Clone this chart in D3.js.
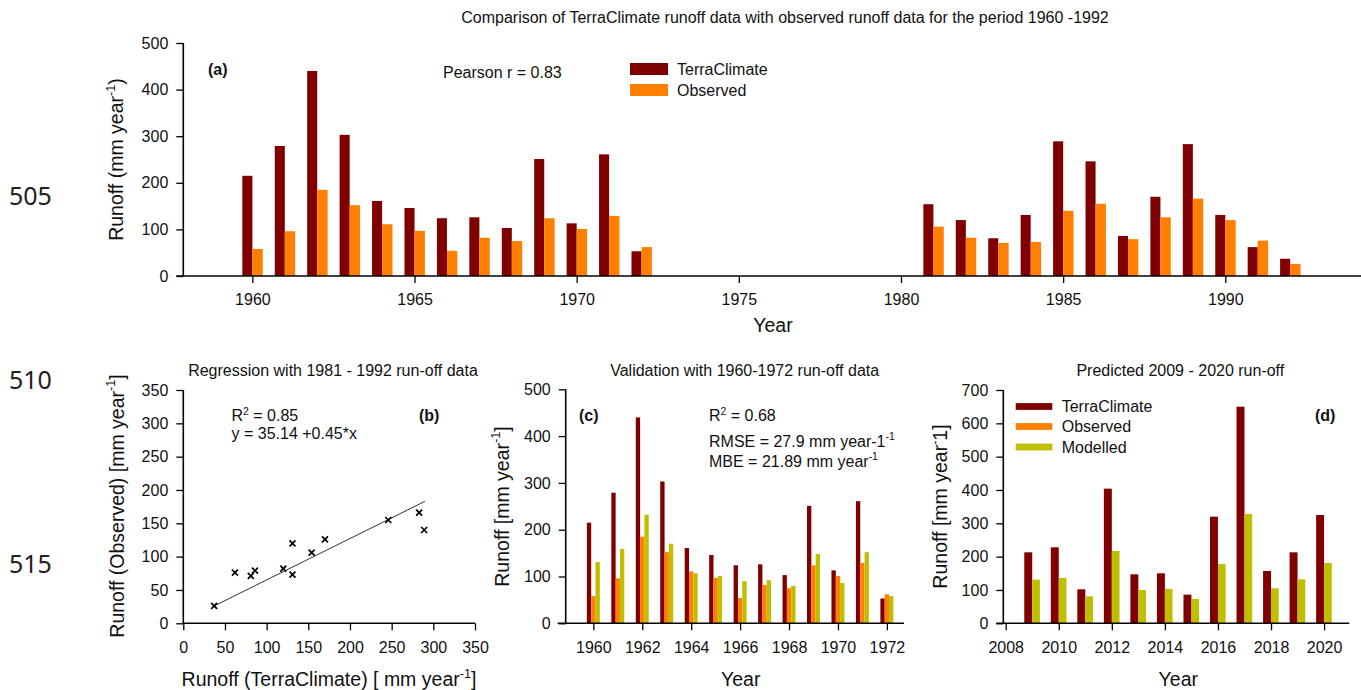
<!doctype html>
<html lang="en">
  <head>
    <meta charset="utf-8">
    <title>TerraClimate runoff comparison</title>
    <style>
      body { margin: 0; background: #fff; }
      svg { display: block; font-family: "Liberation Sans", Arial, sans-serif; }
    </style>
  </head>
  <body>
    <script src="https://d3js.org/d3.v7.min.js"></script>
    <script>
      // 1960-1972 (validation period)
      var yearsEarly = [1960, 1961, 1962, 1963, 1964, 1965, 1966, 1967, 1968, 1969, 1970, 1971, 1972];
      var terraEarly = [215, 279, 440, 303, 161, 146, 124, 126, 103, 251, 113, 261, 53];
      var obsEarly   = [58, 96, 185, 152, 111, 97, 54, 82, 75, 124, 101, 129, 62];
      var modelEarly = [131, 159, 232, 170, 107, 101, 90, 92, 80, 148, 86, 152, 58];

      // 1981-1992 (regression period)
      var yearsLate = [1981, 1982, 1983, 1984, 1985, 1986, 1987, 1988, 1989, 1990, 1991, 1992];
      var terraLate = [154, 120, 81, 131, 289, 246, 86, 170, 283, 131, 62, 37];
      var obsLate   = [106, 82, 71, 73, 140, 155, 79, 126, 166, 120, 76, 26];

      // 2009-2020 prediction
      var yearsPred = [2009, 2010, 2011, 2012, 2013, 2014, 2015, 2016, 2017, 2018, 2019, 2020];
      var terraPred = [213, 228, 102, 404, 147, 150, 86, 320, 650, 157, 213, 325];
      var modelPred = [131, 136, 81, 217, 100, 103, 73, 178, 328, 105, 132, 181];

      // fitted line as drawn in panel (b), ends in data units
      var fitEnds = [[37, 26], [290, 183]];

      var ticksA = [1960, 1965, 1970, 1975, 1980, 1985, 1990];
      var ticksC = [1960, 1962, 1964, 1966, 1968, 1970, 1972];
      var ticksD = [2008, 2010, 2012, 2014, 2016, 2018, 2020];

      var colTerra = '#800000', colObs = '#ff8000', colModel = '#bfbf00';

      var svg = d3.select('body').append('svg')
          .attr('width', 1361)
          .attr('height', 690);
      svg.append('rect').attr('width', 1361).attr('height', 690).attr('fill', '#fff');

      // text with optional superscript parts: strings or {sup: '...'}
      function label(g, x, y, parts, o) {
        o = o || {};
        var fs = o.size || 16;
        var t = g.append('text')
          .attr('font-size', fs)
          .attr('text-anchor', o.anchor || 'start')
          .attr('font-weight', o.bold ? 'bold' : null)
          .attr('font-family', o.family || null)
          .attr('fill', o.color || '#111');
        if (o.rotate) {
          t.attr('x', 0).attr('y', fs * 0.35)
            .attr('transform', 'translate(' + x + ',' + y + ') rotate(-90)');
        } else {
          t.attr('x', x).attr('y', y + fs * 0.35);
        }
        var lift = 0;
        parts.forEach(function(p) {
          var sup = typeof p !== 'string';
          var shift = sup ? -fs * 0.42 : 0;
          t.append('tspan')
            .attr('dy', shift - lift)
            .attr('font-size', sup ? fs * 0.65 : null)
            .text(sup ? p.sup : p);
          lift = shift;
        });
        return t;
      }

      function axes(g, x, y, xTicks, yTicks, overhang) {
        var x0 = x.range()[0], y0 = y.range()[0];
        var xa = g.append('g')
            .attr('transform', 'translate(0,' + y0 + ')')
            .call(d3.axisBottom(x).tickValues(xTicks).tickSize(7).tickPadding(11)
              .tickSizeOuter(0).tickFormat(d3.format('d')));
        var ya = g.append('g')
            .attr('transform', 'translate(' + x0 + ',0)')
            .call(d3.axisLeft(y).tickValues(yTicks).tickSize(7).tickPadding(8).tickSizeOuter(0));
        [xa, ya].forEach(function(a) {
          a.attr('font-size', 16).attr('font-family', null);
          a.select('.domain').remove();
          a.selectAll('.tick line').attr('stroke', '#000').attr('stroke-width', 1.3);
          a.selectAll('.tick text').attr('fill', '#111');
        });
        g.append('line')
          .attr('x1', x0 - overhang).attr('x2', x.range()[1])
          .attr('y1', y0).attr('y2', y0)
          .attr('stroke', '#000').attr('stroke-width', 1.6);
        g.append('line')
          .attr('x1', x0).attr('x2', x0)
          .attr('y1', y0).attr('y2', y.range()[1])
          .attr('stroke', '#000').attr('stroke-width', 1.6);
      }

      function bars(g, x, y, years, values, from, to, color) {
        g.append('g').selectAll('rect')
          .data(years.map(function(yr, i) { return [yr, values[i]]; }))
          .enter().append('rect')
            .attr('x', function(d) { return x(d[0] + from); })
            .attr('width', function(d) { return x(d[0] + to) - x(d[0] + from); })
            .attr('y', function(d) { return y(d[1]); })
            .attr('height', function(d) { return y(0) - y(d[1]); })
            .attr('fill', color);
      }

      // manuscript line numbers
      [['505', 196], ['510', 380], ['515', 564]].forEach(function(d) {
        label(svg, 9, d[1], [d[0]], {size: 25, family: '"Noto Sans", sans-serif', color: '#222'});
      });

      // ---- panel (a)
      var gA = svg.append('g');
      var xA = d3.scaleLinear().domain([1957.87, 1994.2]).range([183.3, 1361.5]);
      var yA = d3.scaleLinear().domain([0, 500]).range([276, 43]);
      bars(gA, xA, yA, yearsEarly, terraEarly, -0.31, 0, colTerra);
      bars(gA, xA, yA, yearsEarly, obsEarly, 0, 0.32, colObs);
      bars(gA, xA, yA, yearsLate, terraLate, -0.31, 0, colTerra);
      bars(gA, xA, yA, yearsLate, obsLate, 0, 0.32, colObs);
      axes(gA, xA, yA, ticksA, d3.range(0, 501, 100), 7);

      label(svg, 785, 17, ['Comparison of TerraClimate runoff data with observed runoff data for the period 1960 -1992'],
        {size: 16, anchor: 'middle'});
      label(gA, 116, 159.5, ['Runoff (mm year', {sup: '-1'}, ')'], {size: 19.5, anchor: 'middle', rotate: true});
      label(gA, 773, 325, ['Year'], {size: 19.5, anchor: 'middle'});
      label(gA, 208, 69, ['(a)'], {bold: true});
      label(gA, 443, 72.5, ['Pearson r = 0.83']);
      gA.append('rect').attr('x', 630).attr('y', 63).attr('width', 38).attr('height', 12).attr('fill', colTerra);
      gA.append('rect').attr('x', 630).attr('y', 84).attr('width', 38).attr('height', 12).attr('fill', colObs);
      label(gA, 677, 69.5, ['TerraClimate']);
      label(gA, 677, 90, ['Observed']);

      // ---- panel (b)
      var gB = svg.append('g');
      var xB = d3.scaleLinear().domain([0, 350]).range([183.3, 475]);
      var yB = d3.scaleLinear().domain([0, 350]).range([623.3, 390]);
      axes(gB, xB, yB, d3.range(0, 351, 50), d3.range(0, 351, 50), 0);
      gB.append('line')
        .attr('x1', xB(fitEnds[0][0])).attr('y1', yB(fitEnds[0][1]))
        .attr('x2', xB(fitEnds[1][0])).attr('y2', yB(fitEnds[1][1]))
        .attr('stroke', '#333').attr('stroke-width', 1);
      gB.append('g').selectAll('path')
        .data(terraLate.map(function(v, i) { return [v, obsLate[i]]; }))
        .enter().append('path')
          .attr('transform', function(d) { return 'translate(' + xB(d[0]) + ',' + yB(d[1]) + ')'; })
          .attr('d', 'M-3,-3L3,3M-3,3L3,-3')
          .attr('stroke', '#000').attr('stroke-width', 1.7);
      label(gB, 333, 370.7, ['Regression with 1981 - 1992 run-off data'], {anchor: 'middle'});
      label(gB, 231.5, 415.7, ['R', {sup: '2'}, ' = 0.85']);
      label(gB, 231.5, 433, ['y = 35.14 +0.45*x']);
      label(gB, 419, 415.7, ['(b)'], {bold: true});
      label(gB, 116.7, 506, ['Runoff (Observed) [mm year', {sup: '-1'}, ']'], {size: 19.5, anchor: 'middle', rotate: true});
      label(gB, 329, 679, ['Runoff (TerraClimate) [ mm year', {sup: '-1'}, ']'], {size: 19.5, anchor: 'middle'});

      // ---- panel (c)
      var gC = svg.append('g');
      var xC = d3.scaleLinear().domain([1958.87, 1972.7]).range([565.7, 904]);
      var yC = d3.scaleLinear().domain([0, 500]).range([623.3, 389.3]);
      bars(gC, xC, yC, yearsEarly, terraEarly, -0.265, -0.088, colTerra);
      bars(gC, xC, yC, yearsEarly, obsEarly, -0.088, 0.088, colObs);
      bars(gC, xC, yC, yearsEarly, modelEarly, 0.088, 0.265, colModel);
      axes(gC, xC, yC, ticksC, d3.range(0, 501, 100), 8);
      label(gC, 744.7, 370.7, ['Validation with 1960-1972 run-off data'], {anchor: 'middle'});
      label(gC, 579, 415.7, ['(c)'], {bold: true});
      label(gC, 709, 415.7, ['R', {sup: '2'}, ' = 0.68']);
      label(gC, 709, 441, ['RMSE = 27.9 mm year-1', {sup: '-1'}]);
      label(gC, 709, 461, ['MBE = 21.89 mm year', {sup: '-1'}]);
      label(gC, 501.7, 506.5, ['Runoff [mm year', {sup: '-1'}, ']'], {size: 19.5, anchor: 'middle', rotate: true});
      label(gC, 740.7, 679.5, ['Year'], {size: 19.5, anchor: 'middle'});

      // ---- panel (d)
      var gD = svg.append('g');
      var xD = d3.scaleLinear().domain([2007.91, 2020.95]).range([1003.3, 1349.3]);
      var yD = d3.scaleLinear().domain([0, 700]).range([623.3, 390]);
      bars(gD, xD, yD, yearsPred, terraPred, -0.3, 0, colTerra);
      bars(gD, xD, yD, yearsPred, modelPred, 0, 0.29, colModel);
      axes(gD, xD, yD, ticksD, d3.range(0, 701, 100), 7);
      label(gD, 1180.3, 370.7, ['Predicted 2009 - 2020 run-off'], {anchor: 'middle'});
      label(gD, 1315, 415.7, ['(d)'], {bold: true});
      [[colTerra, 'TerraClimate', 406.5], [colObs, 'Observed', 426.5], [colModel, 'Modelled', 447]].forEach(function(d) {
        gD.append('rect').attr('x', 1015.7).attr('y', d[2] - 3.4).attr('width', 36.6).attr('height', 6.8).attr('fill', d[0]);
        label(gD, 1061.7, d[2], [d[1]]);
      });
      label(gD, 940, 506.5, ['Runoff [mm year', {sup: '-'}, '1]'], {size: 19.5, anchor: 'middle', rotate: true});
      label(gD, 1178.3, 679.5, ['Year'], {size: 19.5, anchor: 'middle'});
    </script>
  </body>
</html>
